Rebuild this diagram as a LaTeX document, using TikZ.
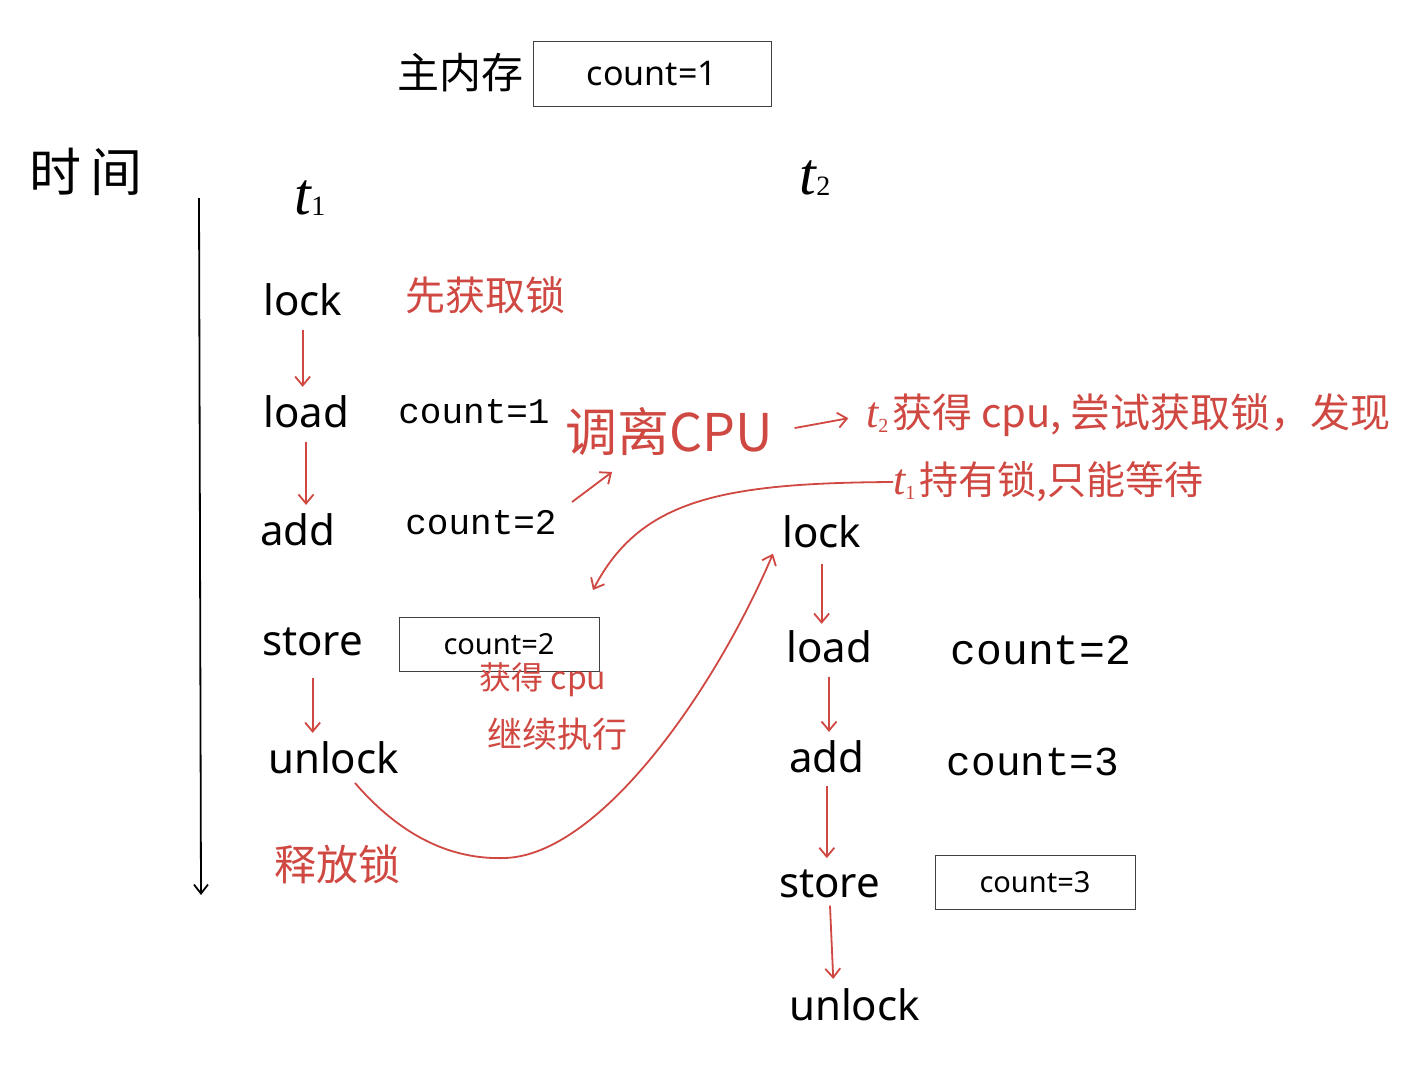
\documentclass[tikz,border=0pt]{standalone}
\usepackage{fontspec}
\setmainfont{Noto Sans}
\newfontfamily\cjk{Noto Sans CJK SC}
\newfontfamily\hand{Liberation Mono}
\newfontfamily\tfont{Liberation Serif}
\usetikzlibrary{arrows.meta,calc}
\definecolor{myred}{RGB}{208,72,66}
\newcommand{\fs}[1]{\fontsize{#1}{#1}\selectfont}
% handwritten-like t with subscript: #1 base size, #2 sub size, #3 digit
\newcommand{\tsb}[3]{{\tfont\itshape\fs{#1}t}\raisebox{-0.12em}{\tfont\fs{#2}#3}}
\tikzset{
  cmd/.style={font=\fs{42}, inner sep=0pt, anchor=base west},
  rdarrow/.style={draw=myred, line width=1.8pt, -{Straight Barb[length=9pt,width=15pt]}},
  flow/.style={rdarrow, shorten <=14pt, shorten >=8pt},
  redtxt/.style={text=myred, inner sep=0pt},
  hw/.style={inner sep=0pt},
  valbox/.style={draw=black!75, line width=1pt, inner sep=0pt},
}
\begin{document}
\begin{tikzpicture}[x=1pt,y=-1pt]
\useasboundingbox[fill=white] (0,0) rectangle (1422,1079);

% main memory
\node[font=\cjk\fs{42}, inner sep=0pt] (mainmem) at (460,73) {主内存};
\node[valbox, minimum width=238pt, minimum height=65pt, font=\fs{34}] (mem) at (652,73.5) {count=1};

% time axis
\node[font=\cjk\fs{52}, inner sep=0pt] (timelabel) at (86,172) {时\hspace{10pt}间};
\coordinate (axtop) at (199,198);
\coordinate (axbot) at (201,895);
\draw[line width=1.8pt, -{Straight Barb[length=9pt,width=14pt]}] (axtop) -- (axbot);

% thread labels
\node[inner sep=0pt] (tA) at (310,198) {\tsb{60}{28}{1}};
\node[inner sep=0pt] (tB) at (815,178) {\tsb{60}{28}{2}};

% thread 1
\node[cmd] (lockA) at (263,315) {lock};
\node[cmd] (loadA) at (263,427) {load};
\node[cmd] (addA) at (260,545) {add};
\node[cmd] (storeA) at (262,655) {store};
\node[cmd] (unlockA) at (268,773) {unlock};
\draw[flow] (lockA.south) -- (lockA.south |- loadA.north);
\draw[flow] (loadA.south) -- (loadA.south |- addA.north);
\draw[flow, shorten <=22pt] (storeA.south) -- (storeA.south |- unlockA.north);

% thread 2
\node[cmd] (lockB) at (782,547) {lock};
\node[cmd] (loadB) at (786,662) {load};
\node[cmd] (addB) at (789,772) {add};
\node[cmd] (storeB) at (779,897) {store};
\node[cmd] (unlockB) at (789,1020) {unlock};
\draw[flow, shorten <=16pt, shorten >=6pt] (lockB.south) -- (lockB.south |- loadB.north);
\draw[flow] (loadB.south) -- (loadB.south |- addB.north);
\draw[flow, shorten <=13pt, shorten >=11pt] (addB.south) -- (addB.south |- storeB.north);
\draw[flow, shorten <=8pt, shorten >=9pt] (storeB.south) -- ($(storeB.south |- unlockB.north)+(4,0)$);

% values
\node[hw, font=\hand\fs{36}] (cA1) at (474,412) {count=1};
\node[hw, font=\hand\fs{36}] (cA2) at (481,523) {count=2};
\node[hw, font=\hand\fs{43}] (cB1) at (1041,650) {count=2};
\node[hw, font=\hand\fs{41}] (cB2) at (1033,762) {count=3};
\node[valbox, minimum width=200pt, minimum height=54pt, font=\fs{29}] (boxA) at (499,644) {count=2};
\node[valbox, minimum width=200pt, minimum height=54pt, font=\fs{29}] (boxB) at (1035,882) {count=3};

% red annotations
\node[redtxt, font=\cjk\fs{40}] (first) at (485,295) {先获取锁};
\node[redtxt, font=\cjk\fs{52}] (diaoli) at (669,432) {调离CPU};
\node[redtxt, font=\cjk\fs{40}, anchor=west] (lineone) at (866,415) {\tsb{44}{20}{2}\hspace{4pt}获得 cpu, 尝试获取锁，发现};
\node[redtxt, font=\cjk\fs{39}, anchor=west] (linetwo) at (893,482) {\tsb{44}{20}{1}\hspace{4pt}持有锁,只能等待};
\node[redtxt, font=\cjk\fs{32}] (getcpu) at (543,680) {获得 cpu};
\node[redtxt, font=\cjk\fs{35}] (goon) at (557,734) {继续执行};
\node[redtxt, font=\cjk\fs{42}] (release) at (337,864) {释放锁};

\draw[rdarrow, shorten <=22pt, shorten >=18pt] (diaoli.east) -- (lineone.west);
\coordinate (upa) at (572,502);
\coordinate (upb) at (612,472);
\draw[rdarrow] (upa) -- (upb);
\coordinate (waittip) at (593,590);
\draw[rdarrow] (linetwo.west) .. controls (720,483) and (640,500) .. (waittip);
\coordinate (relstart) at (355,783);
\coordinate (relbottom) at (505,858);
\draw[rdarrow] (relstart) .. controls (400,835) and (450,860) .. (relbottom)
  .. controls (600,855) and (715,690) .. ($(lockB.south west)+(-9,6)$);
\end{tikzpicture}
\end{document}
